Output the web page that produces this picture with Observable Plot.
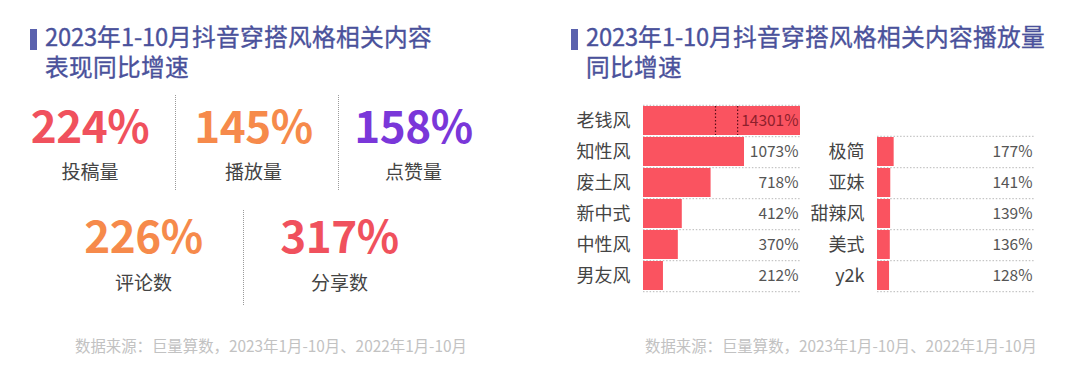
<!DOCTYPE html>
<html><head><meta charset="utf-8">
<script src="https://cdn.jsdelivr.net/npm/d3@7"></script>
<script src="https://cdn.jsdelivr.net/npm/@observablehq/plot@0.6"></script>
<style>
@font-face{font-family:"TitleCJK";src:local("Noto Sans CJK SC Regular"),local("NotoSansCJKsc-Regular"),local("Noto Sans CJK SC");ascent-override:100%;descent-override:20%;line-gap-override:0%;}
body{margin:0;background:#fff;font-family:"Noto Sans CJK SC","Noto Sans",sans-serif;}
#page{position:relative;width:1080px;height:381px;overflow:hidden;background:#fff;}
.abs{position:absolute;}
.title{color:#4a519b;font-family:"TitleCJK","Noto Sans CJK SC",sans-serif;font-size:23.7px;line-height:23.7px;white-space:nowrap;-webkit-text-stroke:0.35px #4a519b;}
.marker{background:#5a61ad;width:7px;height:21px;}
.num{font-weight:700;font-size:44px;line-height:44px;width:240px;text-align:center;letter-spacing:-0.5px;}
.lab{color:#444;font-size:19px;line-height:19px;width:200px;text-align:center;}
.div{border-left:1.3px dotted #9a9a9a;width:0;}
.foot{color:#c2c2c2;font-size:15.4px;line-height:15.4px;white-space:nowrap;}
</style></head>
<body><div id="page"></div>
<script>
// ---- data ----
const kpiLabels = ["投稿量", "播放量", "点赞量", "评论数", "分享数"];
const kpiValues = [224, 145, 158, 226, 317];
const kpiColors = ["#f0515d", "#f68a4b", "#7a37d9", "#f68a4b", "#f0515d"];

const leftCats = ["老钱风", "知性风", "废土风", "新中式", "中性风", "男友风"];
const leftValues = [14301, 1073, 718, 412, 370, 212];
const rightCats = ["极简", "亚妹", "甜辣风", "美式", "y2k"];
const rightValues = [177, 141, 139, 136, 128];
const axisMax = 1668;          // visible end of the broken value axis
const axisBreak = [765, 1000]; // break marks drawn inside the clipped bar

const titleLeft = ["2023年1-10月抖音穿搭风格相关内容", "表现同比增速"];
const titleRight = ["2023年1-10月抖音穿搭风格相关内容播放量", "同比增速"];
const source = "数据来源：巨量算数，2023年1月-10月、2022年1月-10月";

const page = document.getElementById("page");
function el(cls, css, html) {
  const d = document.createElement("div");
  d.className = "abs " + cls;
  Object.assign(d.style, css);
  if (html != null) d.textContent = html;
  page.appendChild(d);
  return d;
}

// titles
el("marker", {left: "30px", top: "29px"});
titleLeft.forEach((t, i) => el("title", {left: "45px", top: (24.5 + 30 * i) + "px"}, t));
el("marker", {left: "571px", top: "29px"});
titleRight.forEach((t, i) => el("title", {left: "586px", top: (24.5 + 30 * i) + "px"}, t));

// KPI panel
const kpiCenters = [90, 253.5, 413.5, 143.5, 339.5];
kpiValues.forEach((v, i) => {
  const row2 = i >= 3;
  el("num", {left: (kpiCenters[i] - 120) + "px", top: (row2 ? 211.5 : 101.5) + "px", color: kpiColors[i]}, v + "%");
  el("lab", {left: (kpiCenters[i] - 100) + "px", top: (row2 ? 272 : 161) + "px"}, kpiLabels[i]);
});
el("div", {left: "175px", top: "95px", height: "95px"});
el("div", {left: "338px", top: "95px", height: "95px"});
el("div", {left: "243px", top: "210px", height: "95px"});

// footers
el("foot", {left: "75px", top: "338px"}, source);
el("foot", {left: "645px", top: "338px"}, source);

// bar charts
const step = 31.4;
function barChart(cats, vals, o) {
  const data = cats.map((c, i) => ({cat: c, value: vals[i]}));
  const inner = cats.length * step;
  const marks = [
    Plot.ruleY([cats[0]], {y: d => d, dy: -step / 2, x1: 0, x2: axisMax, stroke: "#b8b8b8", strokeDasharray: "1.5,1.8"}),
    Plot.ruleY(cats, {y: d => d, dy: step / 2, x1: 0, x2: axisMax, stroke: "#b8b8b8", strokeDasharray: "1.5,1.8"}),
    Plot.barX(data, {y: "cat", x: "value", fill: "#fa5360"}),
    Plot.text(data.filter(d => d.value <= axisMax), {y: "cat", x: axisMax, text: d => d.value + "%", textAnchor: "end", dx: -2, fontSize: 15.5, fill: "#555"}),
    Plot.text(data.filter(d => d.value > axisMax), {y: "cat", x: axisMax, text: d => d.value + "%", textAnchor: "end", dx: -2, fontSize: 15.5, fill: "#8e1f2c"})
  ];
  if (o.breaks) {
    marks.push(Plot.tickX(axisBreak, {x: d => d, y: () => cats[0], stroke: "#5a0f18", strokeWidth: 1.2, strokeDasharray: "1.5,2"}));
  }
  const svg = Plot.plot({
    width: o.width,
    height: o.marginTop + inner + o.marginBottom,
    marginLeft: o.marginLeft,
    marginRight: o.marginRight,
    marginTop: o.marginTop,
    marginBottom: o.marginBottom,
    x: {domain: [0, axisMax], clamp: true, axis: null},
    y: {domain: cats, paddingInner: 0.06, paddingOuter: 0.03, label: null, tickSize: 0, tickPadding: 13},
    style: {fontFamily: '"Noto Sans CJK SC", sans-serif', fontSize: "18px", color: "#444", background: "transparent", overflow: "visible"},
    marks
  });
  svg.style.position = "absolute";
  svg.style.left = o.left + "px";
  svg.style.top = o.top + "px";
  page.appendChild(svg);
}
barChart(leftCats, leftValues, {left: 560, top: 95, width: 245, marginLeft: 83, marginRight: 5, marginTop: 9, marginBottom: 12.6, breaks: true});
barChart(rightCats, rightValues, {left: 800, top: 126, width: 240, marginLeft: 77, marginRight: 6, marginTop: 9, marginBottom: 13});
</script>
</body></html>
